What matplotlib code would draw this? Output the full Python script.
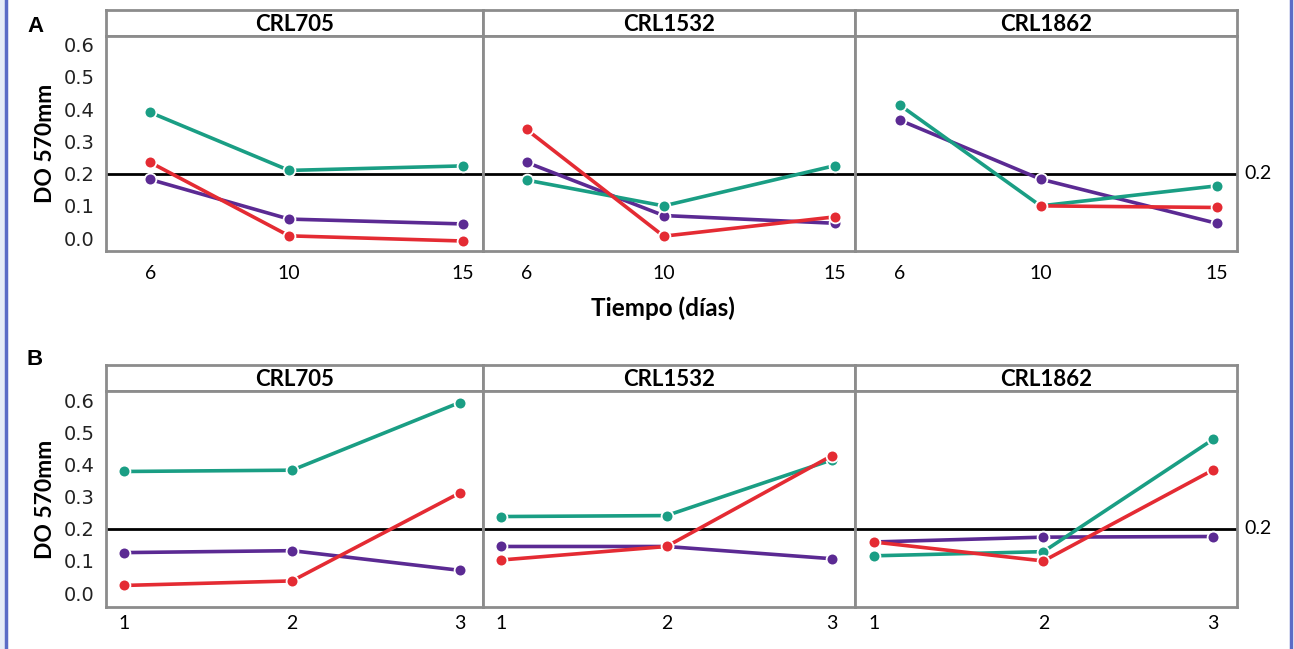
import numpy as np
import matplotlib.pyplot as plt
from matplotlib.patches import Rectangle

cepas = ["CRL705", "CRL1532", "CRL1862"]
series_colors = {"verde": "#1a9e84", "rojo": "#e42b33", "morado": "#5b2a93"}

# panel A: tiempo (dias)
dias = [6, 10, 15]
A_verde = [[0.39, 0.21, 0.224], [0.18, 0.10, 0.225], [0.413, 0.10, 0.162]]
A_rojo = [[0.235, 0.007, -0.009], [0.337, 0.006, 0.066], [np.nan, 0.10, 0.095]]
A_morado = [[0.182, 0.059, 0.044], [0.235, 0.07, 0.046], [0.366, 0.183, 0.046]]

# panel B
niveles = [1, 2, 3]
B_verde = [[0.378, 0.382, 0.592], [0.238, 0.241, 0.414], [0.116, 0.129, 0.478]]
B_rojo = [[0.024, 0.038, 0.311], [0.103, 0.145, 0.427], [0.159, 0.10, 0.383]]
B_morado = [[0.126, 0.132, 0.071], [0.145, 0.145, 0.107], [0.159, 0.174, 0.176]]

yticks = [0.0, 0.1, 0.2, 0.3, 0.4, 0.5, 0.6]
umbral = 0.2

W, H = 1294, 649
fig = plt.figure(figsize=(W / 100, H / 100), dpi=100)
frame_col = "#8c8c8c"
xedges = [106, 483, 855, 1237]


def px(x0, y0, x1, y1):
    return [x0 / W, 1 - y1 / H, (x1 - x0) / W, (y1 - y0) / H]


def draw_row(strip_top, top, bottom, xs, verde, rojo, morado, xlim, ylim, tickpad, label):
    axes = []
    for i, cepa in enumerate(cepas):
        sax = fig.add_axes(px(xedges[i], strip_top, xedges[i + 1], top))
        sax.set_xticks([])
        sax.set_yticks([])
        for s in sax.spines.values():
            s.set_color(frame_col)
            s.set_linewidth(2)
        sax.text(0.5, 0.45, cepa, ha="center", va="center", fontsize=16,
                 fontweight="bold", family="Lato", transform=sax.transAxes)

        ax = fig.add_axes(px(xedges[i], top, xedges[i + 1], bottom))
        ax.axhline(umbral, color="black", lw=2, zorder=1)
        for vals, key in [(morado, "morado"), (verde, "verde"), (rojo, "rojo")]:
            ax.plot(xs, vals[i], color=series_colors[key], lw=2.6, marker="o",
                    markersize=8.5, markeredgecolor="white", markeredgewidth=1.3,
                    zorder=3)
        ax.set_xlim(*xlim)
        ax.set_ylim(*ylim)
        ax.set_xticks(xs)
        ax.set_xticklabels([str(v) for v in xs], fontsize=14, family="Lato")
        ax.tick_params(axis="x", length=0, pad=tickpad)
        ax.set_yticks(yticks)
        if i == 0:
            ax.set_yticklabels([f"{v:.1f}" for v in yticks], fontsize=14,
                               family="DejaVu Sans", color="#222222")
            ax.set_ylabel(label, fontsize=16.5, fontweight="bold", family="Lato",
                          labelpad=6)
        else:
            ax.set_yticklabels([])
        ax.tick_params(axis="y", length=0, pad=8)
        for s in ax.spines.values():
            s.set_color(frame_col)
            s.set_linewidth(2)
        axes.append(ax)
    axes[-1].text(1.02, umbral, "0.2", transform=axes[-1].get_yaxis_transform(),
                  ha="left", va="center", fontsize=14, family="Lato", clip_on=False)
    return axes


axA = draw_row(10, 36, 251, dias, A_verde, A_rojo, A_morado,
               (4.73, 15.58), (-0.04, 0.627), 10, "DO 570mm")
axB = draw_row(365, 391, 607, niveles, B_verde, B_rojo, B_morado,
               (0.89, 3.14), (-0.043, 0.628), 6, "DO 570mm")

fig.text(663 / W, 1 - 308 / H, "Tiempo (días)", ha="center", va="center",
         fontsize=17.5, fontweight="bold", family="Lato")
fig.text(35 / W, 1 - 27 / H, "A", ha="center", va="center", fontsize=16,
         fontweight="bold", family="Liberation Sans")
fig.text(35 / W, 1 - 360 / H, "B", ha="center", va="center", fontsize=16,
         fontweight="bold", family="Liberation Sans")

# marco azul lateral
fig.patches.append(Rectangle((0, 0), 4 / W, 1, transform=fig.transFigure,
                             color="#e6ecf7", zorder=0))
for xb in [5.5, 1290.5]:
    fig.lines.append(plt.Line2D([xb / W, xb / W], [0, 1], transform=fig.transFigure,
                                color="#5b6cc6", lw=2.5))

fig.savefig("out.png", dpi=100)
